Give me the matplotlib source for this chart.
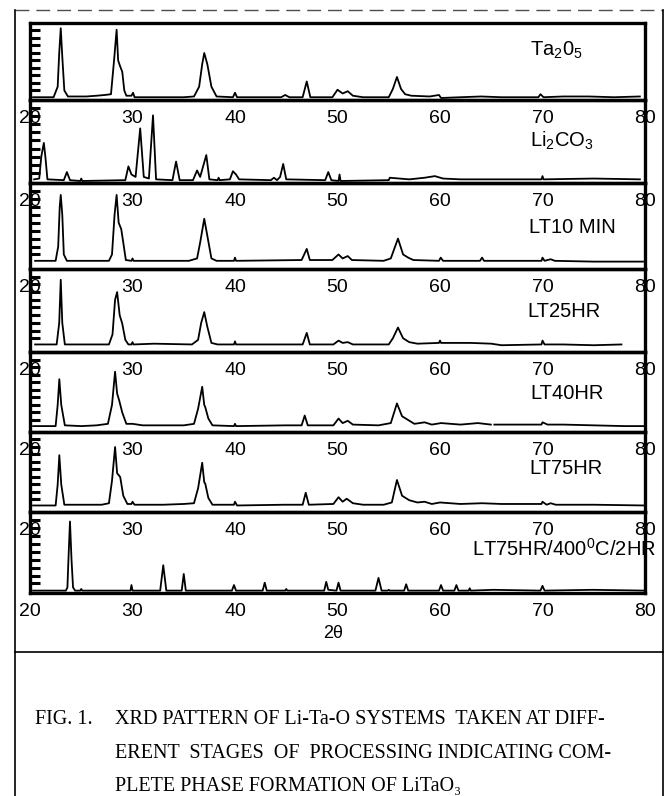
import numpy as np
import matplotlib.pyplot as plt
from matplotlib.ticker import FixedLocator
from matplotlib.lines import Line2D

plt.rcParams.update({
    'font.family': 'Liberation Sans',
    'mathtext.fontset': 'custom',
    'mathtext.rm': 'Liberation Sans',
    'mathtext.it': 'Liberation Sans:italic',
    'mathtext.bf': 'Liberation Sans:bold',
})

# --------------------------------------------------------------------------
# XRD traces (2theta in deg, intensity in arb. units 0..1)
# --------------------------------------------------------------------------
ta2o5_tth = [20.3, 22.3, 22.7, 22.85, 23.0, 23.15, 23.35, 23.7, 25.5, 26.5, 27.3,
             27.9, 28.2, 28.45, 28.6, 28.8, 29.0, 29.2, 29.4, 29.9, 30.05, 30.2,
             33.0, 35.0, 36.0, 36.5, 36.8, 37.0, 37.3, 37.7, 38.2, 39.8, 40.0, 40.2,
             44.5, 44.9, 45.3, 46.6, 47.0, 47.35, 49.5, 50.0, 50.5, 51.0, 51.5, 52.5,
             55.0, 55.4, 55.8, 56.2, 56.6, 57.2, 59.0, 59.9, 60.1, 62.0, 64.0, 66.0,
             69.6, 69.8, 70.1, 72.0, 74.5, 77.0, 79.5]
ta2o5_int = [0.01, 0.01, 0.15, 0.60, 0.93, 0.55, 0.10, 0.02, 0.02, 0.03, 0.04,
             0.05, 0.50, 0.91, 0.50, 0.42, 0.35, 0.10, 0.03, 0.03, 0.07, 0.01,
             0.01, 0.01, 0.02, 0.15, 0.45, 0.60, 0.45, 0.15, 0.02, 0.01, 0.07, 0.01,
             0.01, 0.04, 0.01, 0.01, 0.22, 0.01, 0.01, 0.11, 0.06, 0.09, 0.03, 0.01,
             0.01, 0.12, 0.28, 0.12, 0.05, 0.03, 0.02, 0.04, 0.00, 0.01, 0.02, 0.01,
             0.01, 0.05, 0.01, 0.02, 0.02, 0.01, 0.02]

li2co3_tth = [20.4, 20.9, 21.1, 21.35, 21.5, 21.7, 23.3, 23.6, 23.9, 24.9, 25.0, 25.1,
              29.3, 29.6, 29.9, 30.3, 30.75, 31.1, 31.6, 32.0, 32.3, 33.9, 34.25, 34.6,
              35.9, 36.3, 36.6, 37.2, 37.5, 38.3, 38.4, 38.5, 39.5, 39.8, 40.1, 40.4,
              43.5, 43.8, 44.1, 44.4, 44.7, 45.0, 48.8, 49.1, 49.4, 50.1, 50.2, 50.3,
              55.0, 55.1, 57.0, 58.5, 59.5, 60.3, 62.0, 66.0, 69.9, 70.0, 70.1, 75.0, 79.5]
li2co3_int = [0.02, 0.03, 0.30, 0.47, 0.30, 0.02, 0.01, 0.11, 0.01, 0.00, 0.03, 0.00,
              0.01, 0.18, 0.08, 0.05, 0.65, 0.05, 0.03, 0.81, 0.02, 0.01, 0.24, 0.01,
              0.01, 0.13, 0.05, 0.32, 0.02, 0.01, 0.04, 0.01, 0.02, 0.12, 0.08, 0.02,
              0.01, 0.04, 0.01, 0.05, 0.21, 0.02, 0.01, 0.11, 0.01, 0.00, 0.08, 0.00,
              0.01, 0.04, 0.02, 0.04, 0.06, 0.03, 0.02, 0.02, 0.02, 0.06, 0.02, 0.03, 0.02]

lt10m_tth = [20.5, 22.5, 22.75, 22.9, 23.0, 23.15, 23.3, 23.6, 27.7, 28.0, 28.25,
             28.45, 28.65, 28.9, 29.1, 29.35, 29.9, 30.0, 30.1, 35.5, 36.3, 36.6,
             37.0, 37.35, 37.7, 38.2, 39.9, 40.0, 40.1, 46.5, 47.0, 47.3, 49.5, 50.1,
             50.5, 51.0, 51.4, 54.5, 55.2, 55.9, 56.4, 56.9, 57.4, 59.9, 60.07, 60.3,
             63.9, 64.1, 64.3, 69.9, 70.0, 70.2, 70.8, 71.2, 75.0, 79.8]
lt10m_int = [0.02, 0.02, 0.20, 0.70, 0.85, 0.60, 0.10, 0.02, 0.02, 0.10, 0.60,
             0.85, 0.50, 0.42, 0.25, 0.03, 0.02, 0.05, 0.02, 0.02, 0.05, 0.25,
             0.55, 0.30, 0.05, 0.02, 0.02, 0.06, 0.02, 0.03, 0.17, 0.03, 0.03, 0.10,
             0.05, 0.08, 0.03, 0.02, 0.05, 0.30, 0.10, 0.06, 0.03, 0.02, 0.06, 0.02,
             0.02, 0.06, 0.02, 0.02, 0.06, 0.02, 0.04, 0.02, 0.01, 0.01]

lt25h_tth = [20.5, 22.6, 22.85, 23.0, 23.15, 23.4, 27.7, 28.05, 28.3, 28.5, 28.75,
             29.0, 29.3, 29.6, 29.9, 30.0, 30.1, 32.1, 35.8, 36.4, 36.7, 37.0, 37.3,
             37.7, 38.3, 39.9, 40.0, 40.1, 46.6, 47.0, 47.3, 49.6, 50.1, 50.5, 51.0,
             51.5, 55.0, 55.4, 55.9, 56.4, 57.0, 57.8, 59.9, 60.0, 60.1, 63.0, 65.0,
             66.0, 69.9, 70.0, 70.2, 72.0, 75.0, 77.7]
lt25h_int = [0.02, 0.02, 0.30, 0.86, 0.30, 0.02, 0.02, 0.15, 0.60, 0.70, 0.40,
             0.29, 0.08, 0.02, 0.02, 0.05, 0.02, 0.03, 0.02, 0.08, 0.30, 0.44, 0.25,
             0.04, 0.02, 0.02, 0.06, 0.02, 0.02, 0.17, 0.02, 0.02, 0.07, 0.04, 0.05,
             0.02, 0.02, 0.10, 0.24, 0.10, 0.05, 0.03, 0.04, 0.07, 0.04, 0.04, 0.03,
             0.01, 0.02, 0.07, 0.02, 0.02, 0.01, 0.02]

lt40h_tth = [20.3, 22.5, 22.7, 22.86, 23.05, 23.4, 25.0, 26.5, 27.6, 28.0, 28.3,
             28.5, 28.7, 29.0, 29.4, 30.0, 31.0, 33.0, 35.0, 36.0, 36.4, 36.8, 37.0,
             37.1, 37.4, 37.8, 39.9, 40.0, 40.1, 44.9, 46.5, 46.8, 47.1, 49.6, 50.1,
             50.5, 51.0, 51.5, 54.0, 55.2, 55.8, 56.3, 57.5, 58.5, 59.2, 60.1, 62.0,
             63.7, 64.96, np.nan, 65.3, 67.0, 69.9, 70.0, 70.5, 72.0, 75.0, 78.0, 80.0]
lt40h_int = [0.02, 0.02, 0.30, 0.64, 0.30, 0.03, 0.02, 0.03, 0.05, 0.30, 0.74,
             0.45, 0.36, 0.20, 0.05, 0.05, 0.03, 0.03, 0.03, 0.05, 0.25, 0.54, 0.30,
             0.27, 0.12, 0.03, 0.02, 0.05, 0.02, 0.03, 0.03, 0.16, 0.03, 0.03, 0.12,
             0.06, 0.09, 0.04, 0.03, 0.06, 0.32, 0.15, 0.05, 0.07, 0.04, 0.06, 0.04,
             0.06, 0.04, np.nan, 0.04, 0.04, 0.04, 0.07, 0.04, 0.04, 0.03, 0.02, 0.02]

lt75h_tth = [20.3, 22.5, 22.7, 22.86, 23.05, 23.35, 25.0, 27.0, 27.7, 28.0, 28.3,
             28.5, 28.8, 29.1, 29.5, 29.9, 30.0, 30.2, 33.0, 35.0, 36.0, 36.4, 36.8,
             37.0, 37.1, 37.4, 37.8, 39.9, 40.0, 40.2, 44.8, 46.6, 46.9, 47.2, 49.6,
             50.1, 50.5, 50.9, 51.5, 52.5, 54.5, 55.3, 55.8, 56.3, 57.0, 57.8, 58.5,
             59.2, 60.0, 62.0, 64.1, 66.0, 68.0, 69.9, 70.0, 70.4, 70.8, 71.3, 75.0, 80.0]
lt75h_int = [0.02, 0.02, 0.30, 0.69, 0.30, 0.03, 0.03, 0.03, 0.05, 0.35, 0.80,
             0.45, 0.40, 0.15, 0.04, 0.04, 0.07, 0.03, 0.03, 0.04, 0.05, 0.25, 0.59,
             0.33, 0.31, 0.12, 0.03, 0.03, 0.07, 0.02, 0.03, 0.03, 0.19, 0.03, 0.04,
             0.13, 0.07, 0.11, 0.05, 0.03, 0.03, 0.06, 0.36, 0.15, 0.09, 0.06, 0.07,
             0.04, 0.06, 0.04, 0.05, 0.04, 0.04, 0.04, 0.07, 0.03, 0.05, 0.03, 0.03, 0.02]

lt400_tth = [20.3, 23.5, 23.65, 23.75, 23.9, 24.05, 24.2, 24.4, 24.9, 25.0, 25.1,
             29.8, 29.9, 30.0, 32.7, 33.0, 33.3, 34.8, 35.0, 35.2, 39.7, 39.9, 40.1,
             42.7, 42.9, 43.1, 44.9, 45.0, 45.1, 48.7, 48.9, 49.1, 49.9, 50.1, 50.3,
             53.7, 54.0, 54.3, 54.9, 55.0, 55.1, 56.5, 56.7, 56.9, 59.9, 60.1, 60.3,
             61.4, 61.6, 61.8, 62.8, 62.9, 63.0, 65.2, 69.8, 70.0, 70.2, 74.9, 80.0]
lt400_int = [0.01, 0.01, 0.05, 0.40, 0.88, 0.40, 0.05, 0.01, 0.01, 0.03, 0.01,
             0.01, 0.08, 0.01, 0.01, 0.33, 0.01, 0.01, 0.22, 0.01, 0.01, 0.08, 0.01,
             0.01, 0.11, 0.01, 0.01, 0.03, 0.01, 0.01, 0.12, 0.02, 0.01, 0.11, 0.01,
             0.01, 0.17, 0.01, 0.01, 0.02, 0.01, 0.01, 0.09, 0.01, 0.01, 0.08, 0.01,
             0.01, 0.08, 0.01, 0.01, 0.04, 0.01, 0.02, 0.01, 0.07, 0.01, 0.02, 0.01]

sample_labels = ['Ta$_2$0$_5$', 'Li$_2$CO$_3$', 'LT10 MIN', 'LT25HR', 'LT40HR',
                 'LT75HR', 'LT75HR/400$^0$C/2HR']
traces = [(ta2o5_tth, ta2o5_int), (li2co3_tth, li2co3_int), (lt10m_tth, lt10m_int),
          (lt25h_tth, lt25h_int), (lt40h_tth, lt40h_int), (lt75h_tth, lt75h_int),
          (lt400_tth, lt400_int)]
xticks = [20, 30, 40, 50, 60, 70, 80]

# --------------------------------------------------------------------------
# layout (pixels of the 667x796 page)
# --------------------------------------------------------------------------
W, H = 667, 796
edges = [23, 100, 183, 269, 352, 432, 512, 593]
base_pad = [0.027, 0.025, 0.083, 0.078, 0.058, 0.067, 0.02]
label_xy = [(68.8, 0.58), (68.8, 0.44), (68.7, 0.415), (68.5, 0.425),
            (68.8, 0.41), (68.7, 0.475), (63.1, 0.457)]

fig = plt.figure(figsize=(W / 100, H / 100), dpi=100)

# outer frame of the scanned page
fig.add_artist(Line2D([15 / W, 663 / W], [1 - 10 / H, 1 - 10 / H], color='0.3',
                      lw=1.0, ls=(0, (10, 5))))
fig.add_artist(Line2D([15 / W, 15 / W], [0, 1 - 10 / H], color='k', lw=1.2))
fig.add_artist(Line2D([663 / W, 663 / W], [0, 1 - 10 / H], color='k', lw=1.2))
fig.add_artist(Line2D([15 / W, 663 / W], [1 - 652 / H, 1 - 652 / H], color='k', lw=1.2))

for i, (lab, (tth, inten)) in enumerate(zip(sample_labels, traces)):
    top, bot = edges[i], edges[i + 1]
    ax = fig.add_axes([30 / W, 1 - bot / H, 615 / W, (bot - top) / H])
    ax.set_facecolor('none')
    ax.plot(tth, inten, color='k', lw=1.3)
    ax.set_xlim(20, 80)
    ax.set_ylim(-base_pad[i], 1.0)
    ax.xaxis.set_major_locator(FixedLocator(xticks))
    ax.yaxis.set_major_locator(FixedLocator(np.arange(0.1, 0.95, 0.1)))
    ax.tick_params(axis='x', direction='in', length=0, pad=7, labelsize=14)
    ax.tick_params(axis='y', direction='in', length=7, width=2.2, labelleft=False)
    for s in ax.spines.values():
        s.set_linewidth(2.4)
    ax.text(label_xy[i][0], label_xy[i][1], lab, transform=ax.get_xaxis_transform(),
            ha='left', va='baseline', fontsize=14.5)

fig.text(333 / W, 1 - 633 / H, '2θ', ha='center', va='center', fontsize=13)

cap_font = dict(family=['Liberation Serif', 'DejaVu Serif'], fontsize=14.5, va='baseline')
fig.text(35 / W, 1 - 724 / H, 'FIG. 1.', **cap_font)
fig.text(115 / W, 1 - 724 / H, 'XRD PATTERN OF Li-Ta-O SYSTEMS  TAKEN AT DIFF-', **cap_font)
fig.text(115 / W, 1 - 758 / H, 'ERENT  STAGES  OF  PROCESSING INDICATING COM-', **cap_font)
fig.text(115 / W, 1 - 791 / H, 'PLETE PHASE FORMATION OF LiTaO₃', **cap_font)

fig.savefig('out.png', dpi=100)
